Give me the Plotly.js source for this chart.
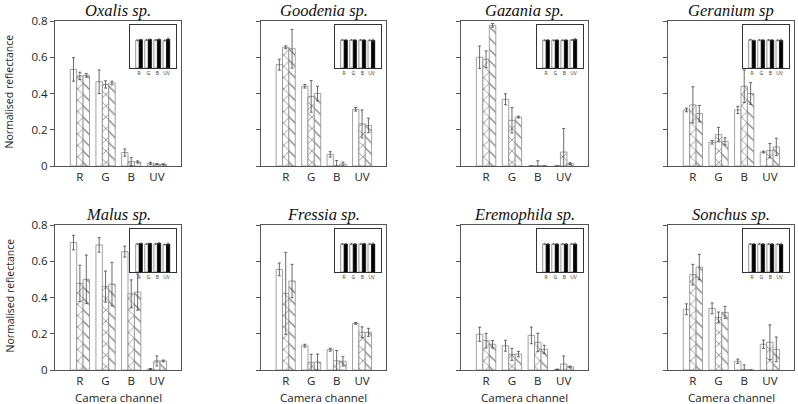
<!DOCTYPE html>
<html><head><meta charset="utf-8">
<script src="https://cdn.plot.ly/plotly-3.0.1.min.js"></script>
<style>html,body{margin:0;padding:0;background:#fff}#chart{width:798px;height:404px}</style>
</head><body><div id="chart"></div>
<script>
const channels = ['R', 'G', 'B', 'UV'];
const species = ['Oxalis sp.', 'Goodenia sp.', 'Gazania sp.', 'Geranium sp',
                 'Malus sp.', 'Fressia sp.', 'Eremophila sp.', 'Sonchus sp.'];

// open (white) bars
const plainMean = [
  [0.533, 0.465, 0.074, 0.015],
  [0.559, 0.440, 0.064, 0.313],
  [0.600, 0.368, 0.000, 0.000],
  [0.309, 0.131, 0.309, 0.077],
  [0.703, 0.690, 0.653, 0.005],
  [0.555, 0.134, 0.112, 0.257],
  [0.197, 0.134, 0.191, 0.003],
  [0.335, 0.340, 0.048, 0.142]
];
const plainErr = [
  [0.065, 0.065, 0.020, 0.006],
  [0.030, 0.010, 0.015, 0.010],
  [0.062, 0.030, 0.000, 0.000],
  [0.010, 0.010, 0.020, 0.005],
  [0.040, 0.040, 0.030, 0.003],
  [0.035, 0.008, 0.008, 0.005],
  [0.039, 0.030, 0.046, 0.002],
  [0.030, 0.030, 0.012, 0.023]
];
// cross-hatched bars
const crossMean = [
  [0.497, 0.450, 0.024, 0.010],
  [0.655, 0.384, 0.002, 0.232],
  [0.589, 0.252, 0.002, 0.077],
  [0.337, 0.173, 0.440, 0.085],
  [0.478, 0.460, 0.420, 0.050],
  [0.423, 0.042, 0.051, 0.208],
  [0.162, 0.086, 0.153, 0.033],
  [0.526, 0.290, 0.003, 0.153]
];
const crossErr = [
  [0.020, 0.020, 0.022, 0.003],
  [0.008, 0.087, 0.028, 0.077],
  [0.046, 0.070, 0.027, 0.130],
  [0.100, 0.040, 0.090, 0.040],
  [0.100, 0.086, 0.077, 0.028],
  [0.226, 0.045, 0.057, 0.030],
  [0.040, 0.033, 0.050, 0.044],
  [0.057, 0.030, 0.025, 0.096]
];
// diagonally hatched bars
const diagMean = [
  [0.500, 0.458, 0.022, 0.009],
  [0.647, 0.400, 0.011, 0.224],
  [0.776, 0.270, 0.000, 0.013],
  [0.289, 0.136, 0.400, 0.105],
  [0.500, 0.474, 0.430, 0.050],
  [0.491, 0.044, 0.048, 0.208],
  [0.142, 0.088, 0.114, 0.018],
  [0.568, 0.318, 0.000, 0.114]
];
const diagErr = [
  [0.010, 0.010, 0.006, 0.003],
  [0.107, 0.040, 0.010, 0.040],
  [0.010, 0.005, 0.000, 0.005],
  [0.045, 0.020, 0.060, 0.048],
  [0.134, 0.120, 0.100, 0.005],
  [0.092, 0.044, 0.026, 0.022],
  [0.020, 0.015, 0.022, 0.003],
  [0.070, 0.033, 0.000, 0.068]
];
// insets: white standard, white vs black bars
const insetWhite = [
  [0.98, 0.99, 0.99, 0.97],
  [0.99, 0.99, 0.99, 0.98],
  [0.98, 0.98, 0.98, 0.99],
  [1.00, 0.99, 0.99, 0.98],
  [0.99, 0.99, 0.99, 0.97],
  [0.99, 0.99, 0.99, 0.99],
  [0.99, 0.99, 0.99, 0.99],
  [0.99, 0.99, 0.99, 0.98]
];
const insetBlack = [
  [1.00, 1.01, 1.01, 1.02],
  [0.99, 0.99, 0.99, 0.98],
  [0.99, 0.99, 0.99, 1.01],
  [0.97, 0.99, 0.99, 0.98],
  [1.01, 1.01, 1.02, 0.99],
  [0.99, 0.99, 1.00, 0.99],
  [0.99, 0.99, 0.99, 0.99],
  [0.99, 0.99, 0.99, 0.98]
];

const W = 798, H = 404;
const colPx = [[55, 181], [261, 386], [461, 588], [668, 794]];
const rowPx = [[21, 166], [225, 370]];
const lineCol = '#555';
const tickFont = {family: 'Open Sans, Lato, sans-serif', size: 11.5, color: '#222'};

const traces = [];
const layout = {
  width: W, height: H,
  margin: {l: 0, r: 0, t: 0, b: 0},
  paper_bgcolor: '#fff', plot_bgcolor: '#fff',
  showlegend: false, barmode: 'group', bargap: 0.25, bargroupgap: 0,
  annotations: []
};

function key(n, a) { return a + 'axis' + (n === 1 ? '' : n); }
function ref(n, a) { return a + (n === 1 ? '' : n); }

for (let i = 0; i < 8; i++) {
  const c = i % 4, r = Math.floor(i / 4);
  const [x0, x1] = colPx[c], [y0, y1] = rowPx[r];
  const n = i + 1, m = i + 9;
  const base = {type: 'bar', x: channels, xaxis: ref(n, 'x'), yaxis: ref(n, 'y'), hoverinfo: 'skip'};
  const eb = arr => ({type: 'data', array: arr, visible: true, color: '#444', thickness: 0.8, width: 1.5});
  traces.push(Object.assign({}, base, {
    y: plainMean[i], error_y: eb(plainErr[i]),
    marker: {color: '#fff', line: {color: '#8a8a8a', width: 0.8}}
  }));
  traces.push(Object.assign({}, base, {
    y: crossMean[i], error_y: eb(crossErr[i]),
    marker: {color: '#fff', line: {color: '#8a8a8a', width: 0.8},
      pattern: {shape: 'x', fgcolor: '#808080', bgcolor: '#fff', size: 8, solidity: 0.18}}
  }));
  traces.push(Object.assign({}, base, {
    y: diagMean[i], error_y: eb(diagErr[i]),
    marker: {color: '#fff', line: {color: '#8a8a8a', width: 0.8},
      pattern: {shape: '\\', fgcolor: '#808080', bgcolor: '#fff', size: 8, solidity: 0.16}}
  }));
  layout[key(n, 'x')] = {
    domain: [x0 / W, x1 / W], anchor: ref(n, 'y'), range: [-0.97, 3.94],
    showline: true, mirror: true, linecolor: lineCol, linewidth: 1,
    ticks: '', tickfont: tickFont, showgrid: false, zeroline: false, fixedrange: true
  };
  layout[key(n, 'y')] = {
    domain: [1 - y1 / H, 1 - y0 / H], anchor: ref(n, 'x'), range: [0, 0.8],
    tickvals: [0, 0.2, 0.4, 0.6, 0.8], ticktext: ['0', '0.2', '0.4', '0.6', '0.8'],
    showticklabels: c === 0, ticks: 'outside', ticklen: 4, tickcolor: lineCol,
    showline: true, mirror: true, linecolor: lineCol, linewidth: 1,
    tickfont: tickFont, showgrid: false, zeroline: false, fixedrange: true
  };
  // inset
  const ix1 = x1 - 5, ix0 = ix1 - 46, iy0 = y0 + 4, iy1 = iy0 + 43;
  const ibase = {type: 'bar', x: channels, xaxis: ref(m, 'x'), yaxis: ref(m, 'y'), hoverinfo: 'skip'};
  traces.push(Object.assign({}, ibase, {
    y: insetWhite[i], marker: {color: '#fff', line: {color: '#666', width: 0.7}},
    error_y: {type: 'data', array: [0.02, 0.02, 0.02, 0.02], color: '#444', thickness: 0.6, width: 0.8}
  }));
  traces.push(Object.assign({}, ibase, {
    y: insetBlack[i], marker: {color: '#000', line: {color: '#000', width: 0.5}},
    error_y: {type: 'data', array: [0.02, 0.02, 0.02, 0.04], color: '#444', thickness: 0.6, width: 0.8}
  }));
  layout[key(m, 'x')] = {
    domain: [ix0 / W, ix1 / W], anchor: ref(m, 'y'), range: [-1, 4.05],
    showline: true, mirror: true, linecolor: '#333', linewidth: 1,
    ticks: '', tickfont: {family: 'Open Sans, sans-serif', size: 5, color: '#333'},
    showgrid: false, zeroline: false, fixedrange: true
  };
  layout[key(m, 'y')] = {
    domain: [1 - iy1 / H, 1 - iy0 / H], anchor: ref(m, 'x'), range: [0, 1.52],
    showticklabels: false, ticks: '',
    showline: true, mirror: true, linecolor: '#333', linewidth: 1,
    showgrid: false, zeroline: false, fixedrange: true
  };
  // titles
  layout.annotations.push({
    text: species[i], xref: 'paper', yref: 'paper', showarrow: false,
    x: (x0 + x1) / 2 / W, y: 1 - (y0 - 11) / H, xanchor: 'center', yanchor: 'middle',
    font: {family: 'Liberation Serif, Times New Roman, serif', size: 16.5, color: '#111', style: 'italic'}
  });
  if (r === 1) {
    layout.annotations.push({
      text: 'Camera channel', xref: 'paper', yref: 'paper', showarrow: false,
      x: (x0 + x1) / 2 / W, y: 1 - 397 / H, xanchor: 'center', yanchor: 'middle',
      font: {family: 'Open Sans, Lato, sans-serif', size: 11.5, color: '#222'}
    });
  }
  if (c === 0) {
    layout.annotations.push({
      text: 'Normalised reflectance', xref: 'paper', yref: 'paper', showarrow: false,
      x: 9 / W, y: 1 - ((y0 + y1) / 2 - 2) / H, xanchor: 'center', yanchor: 'middle', textangle: -90,
      font: {family: 'Open Sans, Lato, sans-serif', size: 10.5, color: '#222'}
    });
  }
}

Plotly.newPlot('chart', traces, layout, {staticPlot: true, displayModeBar: false});
</script>
</body></html>
